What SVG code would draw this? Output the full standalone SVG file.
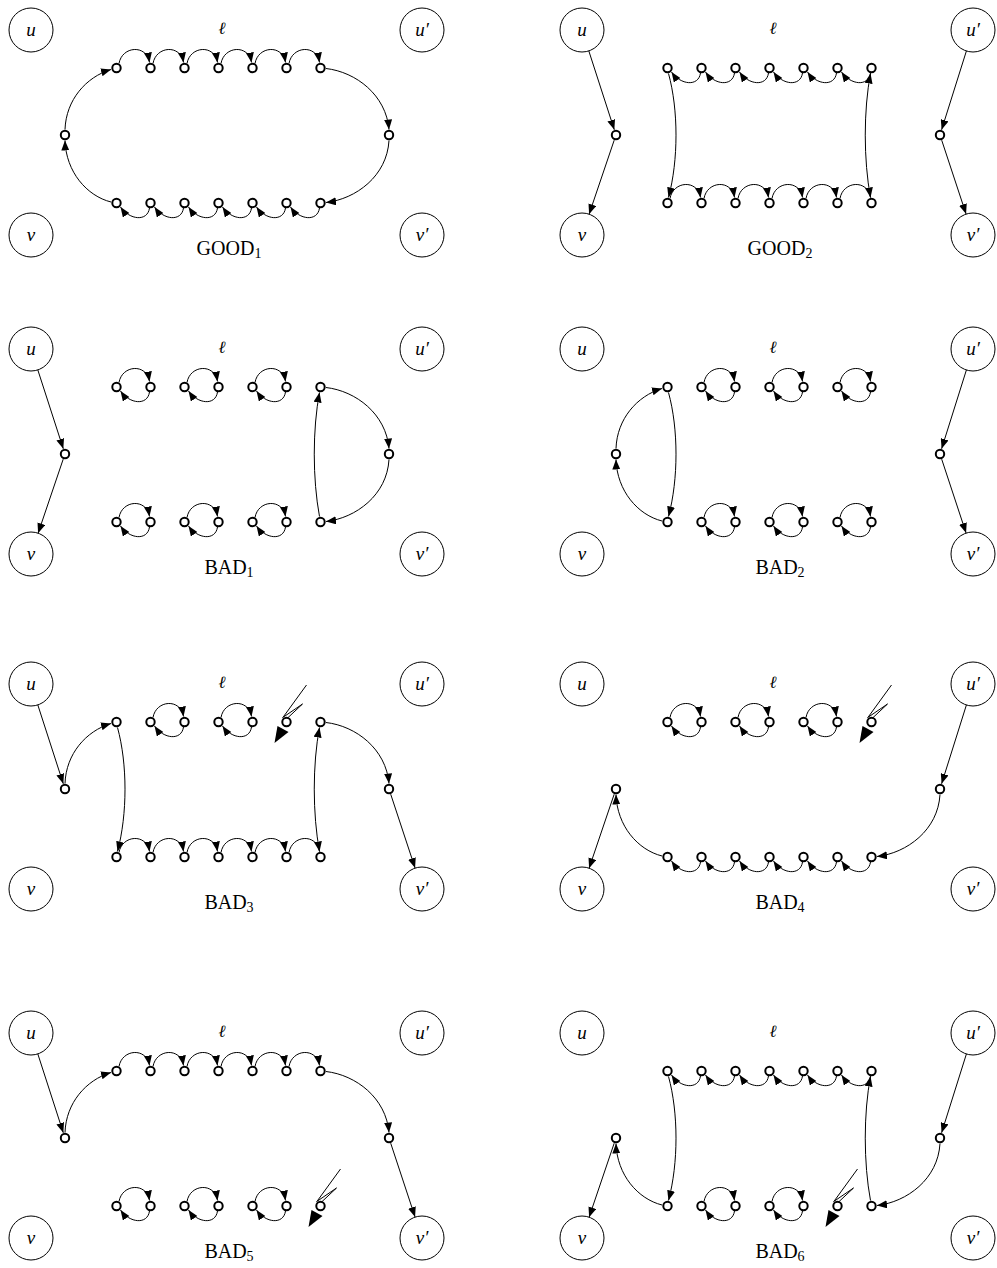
<svg xmlns="http://www.w3.org/2000/svg" width="997" height="1268" viewBox="0 0 997 1268">
<defs>
<style>
.s{fill:#fff;stroke:#000;stroke-width:2}
.b{fill:#fff;stroke:#000;stroke-width:1}
.e{fill:none;stroke:#000;stroke-width:1;marker-end:url(#ah)}
.w{fill:none;stroke:#000;stroke-width:1}
.m{font-family:"Liberation Serif",serif;font-style:italic;font-size:19px;text-anchor:middle}
.ell{font-family:"DejaVu Serif",serif;font-style:italic;font-size:17px;text-anchor:middle}
.lab{font-family:"Liberation Serif",serif;font-size:20px;text-anchor:middle}
.sub{font-size:14px}
</style>
<marker id="ah" viewBox="0 0 10 8" refX="10" refY="4" markerWidth="10" markerHeight="8" markerUnits="userSpaceOnUse" orient="auto"><path d="M0,0 L10,4 L0,8 z" fill="#000"/></marker>
</defs>
<rect width="997" height="1268" fill="#fff"/>

<!-- GOOD1 -->
<g id="good1" transform="translate(0,0)">
<g id="good1-connectors">
<path class="e" d="M65,129.5 C66,100 86,77 111,69.5"/>
<path class="e" d="M119,63.5 c3,-17.5 27.5,-19.5 30.5,-1"/>
<path class="e" d="M153,63.5 c3,-17.5 27.5,-19.5 30.5,-1"/>
<path class="e" d="M187,63.5 c3,-17.5 27.5,-19.5 30.5,-1"/>
<path class="e" d="M221,63.5 c3,-17.5 27.5,-19.5 30.5,-1"/>
<path class="e" d="M255,63.5 c3,-17.5 27.5,-19.5 30.5,-1"/>
<path class="e" d="M289,63.5 c3,-17.5 27.5,-19.5 30.5,-1"/>
<path class="e" d="M326,68.5 C356,72 386,95 389,129.5"/>
<path class="e" d="M389,140.5 C387,176 356,199 326,202.5"/>
<path class="e" d="M149.5,208 c-2,14 -20,12 -29,-1"/>
<path class="e" d="M183.5,208 c-2,14 -20,12 -29,-1"/>
<path class="e" d="M217.5,208 c-2,14 -20,12 -29,-1"/>
<path class="e" d="M251.5,208 c-2,14 -20,12 -29,-1"/>
<path class="e" d="M285.5,208 c-2,14 -20,12 -29,-1"/>
<path class="e" d="M319.5,208 c-2,14 -20,12 -29,-1"/>
<path class="e" d="M111,202 C87,196 66,172 65,140.5"/>
</g>
<g id="good1-u"><circle class="b" cx="31" cy="30" r="22"/><text class="m" x="31" y="36">u</text></g>
<g id="good1-v"><circle class="b" cx="31" cy="235" r="22"/><text class="m" x="31" y="241">v</text></g>
<g id="good1-u2"><circle class="b" cx="422" cy="30" r="22"/><text class="m" x="422" y="36">u′</text></g>
<g id="good1-v2"><circle class="b" cx="422" cy="235" r="22"/><text class="m" x="422" y="241">v′</text></g>
<g id="good1-l"><circle class="s" cx="65" cy="135" r="4.2"/></g>
<g id="good1-r"><circle class="s" cx="389" cy="135" r="4.2"/></g>
<g id="good1-t0"><circle class="s" cx="116.5" cy="68" r="4.2"/></g>
<g id="good1-t1"><circle class="s" cx="150.5" cy="68" r="4.2"/></g>
<g id="good1-t2"><circle class="s" cx="184.5" cy="68" r="4.2"/></g>
<g id="good1-t3"><circle class="s" cx="218.5" cy="68" r="4.2"/></g>
<g id="good1-t4"><circle class="s" cx="252.5" cy="68" r="4.2"/></g>
<g id="good1-t5"><circle class="s" cx="286.5" cy="68" r="4.2"/></g>
<g id="good1-t6"><circle class="s" cx="320.5" cy="68" r="4.2"/></g>
<g id="good1-b0"><circle class="s" cx="116.5" cy="203" r="4.2"/></g>
<g id="good1-b1"><circle class="s" cx="150.5" cy="203" r="4.2"/></g>
<g id="good1-b2"><circle class="s" cx="184.5" cy="203" r="4.2"/></g>
<g id="good1-b3"><circle class="s" cx="218.5" cy="203" r="4.2"/></g>
<g id="good1-b4"><circle class="s" cx="252.5" cy="203" r="4.2"/></g>
<g id="good1-b5"><circle class="s" cx="286.5" cy="203" r="4.2"/></g>
<g id="good1-b6"><circle class="s" cx="320.5" cy="203" r="4.2"/></g>
<text class="ell" x="222" y="34">ℓ</text>
<text class="lab" x="229" y="255">GOOD<tspan class="sub" dy="3">1</tspan></text>
</g>

<!-- GOOD2 -->
<g id="good2" transform="translate(551,0)">
<g id="good2-connectors">
<path class="e" d="M37.8,50.9 L63.3,129.8"/>
<path class="e" d="M63.2,140.2 L38.1,214.2"/>
<path class="e" d="M415.4,51 L390.6,129.8"/>
<path class="e" d="M390.7,140.2 L415.1,214.1"/>
<path class="e" d="M149.5,73 c-2,14 -20,12 -29,-1"/>
<path class="e" d="M183.5,73 c-2,14 -20,12 -29,-1"/>
<path class="e" d="M217.5,73 c-2,14 -20,12 -29,-1"/>
<path class="e" d="M251.5,73 c-2,14 -20,12 -29,-1"/>
<path class="e" d="M285.5,73 c-2,14 -20,12 -29,-1"/>
<path class="e" d="M319.5,73 c-2,14 -20,12 -29,-1"/>
<path class="e" d="M117.5,73.5 C127.5,110 127.5,160 117.5,197.5"/>
<path class="e" d="M119,198.5 c3,-17.5 27.5,-19.5 30.5,-1"/>
<path class="e" d="M153,198.5 c3,-17.5 27.5,-19.5 30.5,-1"/>
<path class="e" d="M187,198.5 c3,-17.5 27.5,-19.5 30.5,-1"/>
<path class="e" d="M221,198.5 c3,-17.5 27.5,-19.5 30.5,-1"/>
<path class="e" d="M255,198.5 c3,-17.5 27.5,-19.5 30.5,-1"/>
<path class="e" d="M289,198.5 c3,-17.5 27.5,-19.5 30.5,-1"/>
<path class="e" d="M319.5,197.5 C312.5,160 312.5,110 319.5,73.5"/>
</g>
<g id="good2-u"><circle class="b" cx="31" cy="30" r="22"/><text class="m" x="31" y="36">u</text></g>
<g id="good2-v"><circle class="b" cx="31" cy="235" r="22"/><text class="m" x="31" y="241">v</text></g>
<g id="good2-u2"><circle class="b" cx="422" cy="30" r="22"/><text class="m" x="422" y="36">u′</text></g>
<g id="good2-v2"><circle class="b" cx="422" cy="235" r="22"/><text class="m" x="422" y="241">v′</text></g>
<g id="good2-l"><circle class="s" cx="65" cy="135" r="4.2"/></g>
<g id="good2-r"><circle class="s" cx="389" cy="135" r="4.2"/></g>
<g id="good2-t0"><circle class="s" cx="116.5" cy="68" r="4.2"/></g>
<g id="good2-t1"><circle class="s" cx="150.5" cy="68" r="4.2"/></g>
<g id="good2-t2"><circle class="s" cx="184.5" cy="68" r="4.2"/></g>
<g id="good2-t3"><circle class="s" cx="218.5" cy="68" r="4.2"/></g>
<g id="good2-t4"><circle class="s" cx="252.5" cy="68" r="4.2"/></g>
<g id="good2-t5"><circle class="s" cx="286.5" cy="68" r="4.2"/></g>
<g id="good2-t6"><circle class="s" cx="320.5" cy="68" r="4.2"/></g>
<g id="good2-b0"><circle class="s" cx="116.5" cy="203" r="4.2"/></g>
<g id="good2-b1"><circle class="s" cx="150.5" cy="203" r="4.2"/></g>
<g id="good2-b2"><circle class="s" cx="184.5" cy="203" r="4.2"/></g>
<g id="good2-b3"><circle class="s" cx="218.5" cy="203" r="4.2"/></g>
<g id="good2-b4"><circle class="s" cx="252.5" cy="203" r="4.2"/></g>
<g id="good2-b5"><circle class="s" cx="286.5" cy="203" r="4.2"/></g>
<g id="good2-b6"><circle class="s" cx="320.5" cy="203" r="4.2"/></g>
<text class="ell" x="222" y="34">ℓ</text>
<text class="lab" x="229" y="255">GOOD<tspan class="sub" dy="3">2</tspan></text>
</g>

<!-- BAD1 -->
<g id="bad1" transform="translate(0,319)">
<g id="bad1-connectors">
<path class="e" d="M37.8,50.9 L63.3,129.8"/>
<path class="e" d="M63.2,140.2 L38.1,214.2"/>
<path class="e" d="M119,63.5 c3,-17.5 27.5,-19.5 30.5,-1"/>
<path class="e" d="M149.5,73 c-2,14 -20,12 -29,-1"/>
<path class="e" d="M187,63.5 c3,-17.5 27.5,-19.5 30.5,-1"/>
<path class="e" d="M217.5,73 c-2,14 -20,12 -29,-1"/>
<path class="e" d="M255,63.5 c3,-17.5 27.5,-19.5 30.5,-1"/>
<path class="e" d="M285.5,73 c-2,14 -20,12 -29,-1"/>
<path class="e" d="M119,198.5 c3,-17.5 27.5,-19.5 30.5,-1"/>
<path class="e" d="M149.5,208 c-2,14 -20,12 -29,-1"/>
<path class="e" d="M187,198.5 c3,-17.5 27.5,-19.5 30.5,-1"/>
<path class="e" d="M217.5,208 c-2,14 -20,12 -29,-1"/>
<path class="e" d="M255,198.5 c3,-17.5 27.5,-19.5 30.5,-1"/>
<path class="e" d="M285.5,208 c-2,14 -20,12 -29,-1"/>
<path class="e" d="M326,68.5 C356,72 386,95 389,129.5"/>
<path class="e" d="M389,140.5 C387,176 356,199 326,202.5"/>
<path class="e" d="M319.5,197.5 C312.5,160 312.5,110 319.5,73.5"/>
</g>
<g id="bad1-u"><circle class="b" cx="31" cy="30" r="22"/><text class="m" x="31" y="36">u</text></g>
<g id="bad1-v"><circle class="b" cx="31" cy="235" r="22"/><text class="m" x="31" y="241">v</text></g>
<g id="bad1-u2"><circle class="b" cx="422" cy="30" r="22"/><text class="m" x="422" y="36">u′</text></g>
<g id="bad1-v2"><circle class="b" cx="422" cy="235" r="22"/><text class="m" x="422" y="241">v′</text></g>
<g id="bad1-l"><circle class="s" cx="65" cy="135" r="4.2"/></g>
<g id="bad1-r"><circle class="s" cx="389" cy="135" r="4.2"/></g>
<g id="bad1-t0"><circle class="s" cx="116.5" cy="68" r="4.2"/></g>
<g id="bad1-t1"><circle class="s" cx="150.5" cy="68" r="4.2"/></g>
<g id="bad1-t2"><circle class="s" cx="184.5" cy="68" r="4.2"/></g>
<g id="bad1-t3"><circle class="s" cx="218.5" cy="68" r="4.2"/></g>
<g id="bad1-t4"><circle class="s" cx="252.5" cy="68" r="4.2"/></g>
<g id="bad1-t5"><circle class="s" cx="286.5" cy="68" r="4.2"/></g>
<g id="bad1-t6"><circle class="s" cx="320.5" cy="68" r="4.2"/></g>
<g id="bad1-b0"><circle class="s" cx="116.5" cy="203" r="4.2"/></g>
<g id="bad1-b1"><circle class="s" cx="150.5" cy="203" r="4.2"/></g>
<g id="bad1-b2"><circle class="s" cx="184.5" cy="203" r="4.2"/></g>
<g id="bad1-b3"><circle class="s" cx="218.5" cy="203" r="4.2"/></g>
<g id="bad1-b4"><circle class="s" cx="252.5" cy="203" r="4.2"/></g>
<g id="bad1-b5"><circle class="s" cx="286.5" cy="203" r="4.2"/></g>
<g id="bad1-b6"><circle class="s" cx="320.5" cy="203" r="4.2"/></g>
<text class="ell" x="222" y="34">ℓ</text>
<text class="lab" x="229" y="255">BAD<tspan class="sub" dy="3">1</tspan></text>
</g>

<!-- BAD2 -->
<g id="bad2" transform="translate(551,319)">
<g id="bad2-connectors">
<path class="e" d="M415.4,51 L390.6,129.8"/>
<path class="e" d="M390.7,140.2 L415.1,214.1"/>
<path class="e" d="M153,63.5 c3,-17.5 27.5,-19.5 30.5,-1"/>
<path class="e" d="M183.5,73 c-2,14 -20,12 -29,-1"/>
<path class="e" d="M221,63.5 c3,-17.5 27.5,-19.5 30.5,-1"/>
<path class="e" d="M251.5,73 c-2,14 -20,12 -29,-1"/>
<path class="e" d="M289,63.5 c3,-17.5 27.5,-19.5 30.5,-1"/>
<path class="e" d="M319.5,73 c-2,14 -20,12 -29,-1"/>
<path class="e" d="M153,198.5 c3,-17.5 27.5,-19.5 30.5,-1"/>
<path class="e" d="M183.5,208 c-2,14 -20,12 -29,-1"/>
<path class="e" d="M221,198.5 c3,-17.5 27.5,-19.5 30.5,-1"/>
<path class="e" d="M251.5,208 c-2,14 -20,12 -29,-1"/>
<path class="e" d="M289,198.5 c3,-17.5 27.5,-19.5 30.5,-1"/>
<path class="e" d="M319.5,208 c-2,14 -20,12 -29,-1"/>
<path class="e" d="M65,129.5 C66,100 86,77 111,69.5"/>
<path class="e" d="M117.5,73.5 C127.5,110 127.5,160 117.5,197.5"/>
<path class="e" d="M111,202 C87,196 66,172 65,140.5"/>
</g>
<g id="bad2-u"><circle class="b" cx="31" cy="30" r="22"/><text class="m" x="31" y="36">u</text></g>
<g id="bad2-v"><circle class="b" cx="31" cy="235" r="22"/><text class="m" x="31" y="241">v</text></g>
<g id="bad2-u2"><circle class="b" cx="422" cy="30" r="22"/><text class="m" x="422" y="36">u′</text></g>
<g id="bad2-v2"><circle class="b" cx="422" cy="235" r="22"/><text class="m" x="422" y="241">v′</text></g>
<g id="bad2-l"><circle class="s" cx="65" cy="135" r="4.2"/></g>
<g id="bad2-r"><circle class="s" cx="389" cy="135" r="4.2"/></g>
<g id="bad2-t0"><circle class="s" cx="116.5" cy="68" r="4.2"/></g>
<g id="bad2-t1"><circle class="s" cx="150.5" cy="68" r="4.2"/></g>
<g id="bad2-t2"><circle class="s" cx="184.5" cy="68" r="4.2"/></g>
<g id="bad2-t3"><circle class="s" cx="218.5" cy="68" r="4.2"/></g>
<g id="bad2-t4"><circle class="s" cx="252.5" cy="68" r="4.2"/></g>
<g id="bad2-t5"><circle class="s" cx="286.5" cy="68" r="4.2"/></g>
<g id="bad2-t6"><circle class="s" cx="320.5" cy="68" r="4.2"/></g>
<g id="bad2-b0"><circle class="s" cx="116.5" cy="203" r="4.2"/></g>
<g id="bad2-b1"><circle class="s" cx="150.5" cy="203" r="4.2"/></g>
<g id="bad2-b2"><circle class="s" cx="184.5" cy="203" r="4.2"/></g>
<g id="bad2-b3"><circle class="s" cx="218.5" cy="203" r="4.2"/></g>
<g id="bad2-b4"><circle class="s" cx="252.5" cy="203" r="4.2"/></g>
<g id="bad2-b5"><circle class="s" cx="286.5" cy="203" r="4.2"/></g>
<g id="bad2-b6"><circle class="s" cx="320.5" cy="203" r="4.2"/></g>
<text class="ell" x="222" y="34">ℓ</text>
<text class="lab" x="229" y="255">BAD<tspan class="sub" dy="3">2</tspan></text>
</g>

<!-- BAD3 -->
<g id="bad3" transform="translate(0,654)">
<g id="bad3-connectors">
<path class="e" d="M37.8,50.9 L63.3,129.8"/>
<path class="e" d="M65,129.5 C66,100 86,77 111,69.5"/>
<path class="e" d="M117.5,73.5 C127.5,110 127.5,160 117.5,197.5"/>
<path class="e" d="M119,198.5 c3,-17.5 27.5,-19.5 30.5,-1"/>
<path class="e" d="M153,198.5 c3,-17.5 27.5,-19.5 30.5,-1"/>
<path class="e" d="M187,198.5 c3,-17.5 27.5,-19.5 30.5,-1"/>
<path class="e" d="M221,198.5 c3,-17.5 27.5,-19.5 30.5,-1"/>
<path class="e" d="M255,198.5 c3,-17.5 27.5,-19.5 30.5,-1"/>
<path class="e" d="M289,198.5 c3,-17.5 27.5,-19.5 30.5,-1"/>
<path class="e" d="M319.5,197.5 C312.5,160 312.5,110 319.5,73.5"/>
<path class="e" d="M326,68.5 C356,72 386,95 389,129.5"/>
<path class="e" d="M390.7,140.2 L415.1,214.1"/>
<path class="e" d="M153,63.5 c3,-17.5 27.5,-19.5 30.5,-1"/>
<path class="e" d="M183.5,73 c-2,14 -20,12 -29,-1"/>
<path class="e" d="M221,63.5 c3,-17.5 27.5,-19.5 30.5,-1"/>
<path class="e" d="M251.5,73 c-2,14 -20,12 -29,-1"/>
<path class="w" d="M306.5,31 L282.5,64 M283.5,63 L302.5,50 L286.5,65"/>
<polygon points="274.5,89 277.5,72 288.5,78" fill="#000"/>
</g>
<g id="bad3-u"><circle class="b" cx="31" cy="30" r="22"/><text class="m" x="31" y="36">u</text></g>
<g id="bad3-v"><circle class="b" cx="31" cy="235" r="22"/><text class="m" x="31" y="241">v</text></g>
<g id="bad3-u2"><circle class="b" cx="422" cy="30" r="22"/><text class="m" x="422" y="36">u′</text></g>
<g id="bad3-v2"><circle class="b" cx="422" cy="235" r="22"/><text class="m" x="422" y="241">v′</text></g>
<g id="bad3-l"><circle class="s" cx="65" cy="135" r="4.2"/></g>
<g id="bad3-r"><circle class="s" cx="389" cy="135" r="4.2"/></g>
<g id="bad3-t0"><circle class="s" cx="116.5" cy="68" r="4.2"/></g>
<g id="bad3-t1"><circle class="s" cx="150.5" cy="68" r="4.2"/></g>
<g id="bad3-t2"><circle class="s" cx="184.5" cy="68" r="4.2"/></g>
<g id="bad3-t3"><circle class="s" cx="218.5" cy="68" r="4.2"/></g>
<g id="bad3-t4"><circle class="s" cx="252.5" cy="68" r="4.2"/></g>
<g id="bad3-t5"><circle class="s" cx="286.5" cy="68" r="4.2"/></g>
<g id="bad3-t6"><circle class="s" cx="320.5" cy="68" r="4.2"/></g>
<g id="bad3-b0"><circle class="s" cx="116.5" cy="203" r="4.2"/></g>
<g id="bad3-b1"><circle class="s" cx="150.5" cy="203" r="4.2"/></g>
<g id="bad3-b2"><circle class="s" cx="184.5" cy="203" r="4.2"/></g>
<g id="bad3-b3"><circle class="s" cx="218.5" cy="203" r="4.2"/></g>
<g id="bad3-b4"><circle class="s" cx="252.5" cy="203" r="4.2"/></g>
<g id="bad3-b5"><circle class="s" cx="286.5" cy="203" r="4.2"/></g>
<g id="bad3-b6"><circle class="s" cx="320.5" cy="203" r="4.2"/></g>
<text class="ell" x="222" y="34">ℓ</text>
<text class="lab" x="229" y="255">BAD<tspan class="sub" dy="3">3</tspan></text>
</g>

<!-- BAD4 -->
<g id="bad4" transform="translate(551,654)">
<g id="bad4-connectors">
<path class="e" d="M119,63.5 c3,-17.5 27.5,-19.5 30.5,-1"/>
<path class="e" d="M149.5,73 c-2,14 -20,12 -29,-1"/>
<path class="e" d="M187,63.5 c3,-17.5 27.5,-19.5 30.5,-1"/>
<path class="e" d="M217.5,73 c-2,14 -20,12 -29,-1"/>
<path class="e" d="M255,63.5 c3,-17.5 27.5,-19.5 30.5,-1"/>
<path class="e" d="M285.5,73 c-2,14 -20,12 -29,-1"/>
<path class="w" d="M340.5,31 L316.5,64 M317.5,63 L336.5,50 L320.5,65"/>
<polygon points="308.5,89 311.5,72 322.5,78" fill="#000"/>
<path class="e" d="M415.4,51 L390.6,129.8"/>
<path class="e" d="M389,140.5 C387,176 356,199 326,202.5"/>
<path class="e" d="M149.5,208 c-2,14 -20,12 -29,-1"/>
<path class="e" d="M183.5,208 c-2,14 -20,12 -29,-1"/>
<path class="e" d="M217.5,208 c-2,14 -20,12 -29,-1"/>
<path class="e" d="M251.5,208 c-2,14 -20,12 -29,-1"/>
<path class="e" d="M285.5,208 c-2,14 -20,12 -29,-1"/>
<path class="e" d="M319.5,208 c-2,14 -20,12 -29,-1"/>
<path class="e" d="M111,202 C87,196 66,172 65,140.5"/>
<path class="e" d="M63.2,140.2 L38.1,214.2"/>
</g>
<g id="bad4-u"><circle class="b" cx="31" cy="30" r="22"/><text class="m" x="31" y="36">u</text></g>
<g id="bad4-v"><circle class="b" cx="31" cy="235" r="22"/><text class="m" x="31" y="241">v</text></g>
<g id="bad4-u2"><circle class="b" cx="422" cy="30" r="22"/><text class="m" x="422" y="36">u′</text></g>
<g id="bad4-v2"><circle class="b" cx="422" cy="235" r="22"/><text class="m" x="422" y="241">v′</text></g>
<g id="bad4-l"><circle class="s" cx="65" cy="135" r="4.2"/></g>
<g id="bad4-r"><circle class="s" cx="389" cy="135" r="4.2"/></g>
<g id="bad4-t0"><circle class="s" cx="116.5" cy="68" r="4.2"/></g>
<g id="bad4-t1"><circle class="s" cx="150.5" cy="68" r="4.2"/></g>
<g id="bad4-t2"><circle class="s" cx="184.5" cy="68" r="4.2"/></g>
<g id="bad4-t3"><circle class="s" cx="218.5" cy="68" r="4.2"/></g>
<g id="bad4-t4"><circle class="s" cx="252.5" cy="68" r="4.2"/></g>
<g id="bad4-t5"><circle class="s" cx="286.5" cy="68" r="4.2"/></g>
<g id="bad4-t6"><circle class="s" cx="320.5" cy="68" r="4.2"/></g>
<g id="bad4-b0"><circle class="s" cx="116.5" cy="203" r="4.2"/></g>
<g id="bad4-b1"><circle class="s" cx="150.5" cy="203" r="4.2"/></g>
<g id="bad4-b2"><circle class="s" cx="184.5" cy="203" r="4.2"/></g>
<g id="bad4-b3"><circle class="s" cx="218.5" cy="203" r="4.2"/></g>
<g id="bad4-b4"><circle class="s" cx="252.5" cy="203" r="4.2"/></g>
<g id="bad4-b5"><circle class="s" cx="286.5" cy="203" r="4.2"/></g>
<g id="bad4-b6"><circle class="s" cx="320.5" cy="203" r="4.2"/></g>
<text class="ell" x="222" y="34">ℓ</text>
<text class="lab" x="229" y="255">BAD<tspan class="sub" dy="3">4</tspan></text>
</g>

<!-- BAD5 -->
<g id="bad5" transform="translate(0,1003)">
<g id="bad5-connectors">
<path class="e" d="M37.8,50.9 L63.3,129.8"/>
<path class="e" d="M65,129.5 C66,100 86,77 111,69.5"/>
<path class="e" d="M119,63.5 c3,-17.5 27.5,-19.5 30.5,-1"/>
<path class="e" d="M153,63.5 c3,-17.5 27.5,-19.5 30.5,-1"/>
<path class="e" d="M187,63.5 c3,-17.5 27.5,-19.5 30.5,-1"/>
<path class="e" d="M221,63.5 c3,-17.5 27.5,-19.5 30.5,-1"/>
<path class="e" d="M255,63.5 c3,-17.5 27.5,-19.5 30.5,-1"/>
<path class="e" d="M289,63.5 c3,-17.5 27.5,-19.5 30.5,-1"/>
<path class="e" d="M326,68.5 C356,72 386,95 389,129.5"/>
<path class="e" d="M390.7,140.2 L415.1,214.1"/>
<path class="e" d="M119,198.5 c3,-17.5 27.5,-19.5 30.5,-1"/>
<path class="e" d="M149.5,208 c-2,14 -20,12 -29,-1"/>
<path class="e" d="M187,198.5 c3,-17.5 27.5,-19.5 30.5,-1"/>
<path class="e" d="M217.5,208 c-2,14 -20,12 -29,-1"/>
<path class="e" d="M255,198.5 c3,-17.5 27.5,-19.5 30.5,-1"/>
<path class="e" d="M285.5,208 c-2,14 -20,12 -29,-1"/>
<path class="w" d="M340.5,166 L316.5,199 M317.5,198 L336.5,185 L320.5,200"/>
<polygon points="308.5,224 311.5,207 322.5,213" fill="#000"/>
</g>
<g id="bad5-u"><circle class="b" cx="31" cy="30" r="22"/><text class="m" x="31" y="36">u</text></g>
<g id="bad5-v"><circle class="b" cx="31" cy="235" r="22"/><text class="m" x="31" y="241">v</text></g>
<g id="bad5-u2"><circle class="b" cx="422" cy="30" r="22"/><text class="m" x="422" y="36">u′</text></g>
<g id="bad5-v2"><circle class="b" cx="422" cy="235" r="22"/><text class="m" x="422" y="241">v′</text></g>
<g id="bad5-l"><circle class="s" cx="65" cy="135" r="4.2"/></g>
<g id="bad5-r"><circle class="s" cx="389" cy="135" r="4.2"/></g>
<g id="bad5-t0"><circle class="s" cx="116.5" cy="68" r="4.2"/></g>
<g id="bad5-t1"><circle class="s" cx="150.5" cy="68" r="4.2"/></g>
<g id="bad5-t2"><circle class="s" cx="184.5" cy="68" r="4.2"/></g>
<g id="bad5-t3"><circle class="s" cx="218.5" cy="68" r="4.2"/></g>
<g id="bad5-t4"><circle class="s" cx="252.5" cy="68" r="4.2"/></g>
<g id="bad5-t5"><circle class="s" cx="286.5" cy="68" r="4.2"/></g>
<g id="bad5-t6"><circle class="s" cx="320.5" cy="68" r="4.2"/></g>
<g id="bad5-b0"><circle class="s" cx="116.5" cy="203" r="4.2"/></g>
<g id="bad5-b1"><circle class="s" cx="150.5" cy="203" r="4.2"/></g>
<g id="bad5-b2"><circle class="s" cx="184.5" cy="203" r="4.2"/></g>
<g id="bad5-b3"><circle class="s" cx="218.5" cy="203" r="4.2"/></g>
<g id="bad5-b4"><circle class="s" cx="252.5" cy="203" r="4.2"/></g>
<g id="bad5-b5"><circle class="s" cx="286.5" cy="203" r="4.2"/></g>
<g id="bad5-b6"><circle class="s" cx="320.5" cy="203" r="4.2"/></g>
<text class="ell" x="222" y="34">ℓ</text>
<text class="lab" x="229" y="255">BAD<tspan class="sub" dy="3">5</tspan></text>
</g>

<!-- BAD6 -->
<g id="bad6" transform="translate(551,1003)">
<g id="bad6-connectors">
<path class="e" d="M149.5,73 c-2,14 -20,12 -29,-1"/>
<path class="e" d="M183.5,73 c-2,14 -20,12 -29,-1"/>
<path class="e" d="M217.5,73 c-2,14 -20,12 -29,-1"/>
<path class="e" d="M251.5,73 c-2,14 -20,12 -29,-1"/>
<path class="e" d="M285.5,73 c-2,14 -20,12 -29,-1"/>
<path class="e" d="M319.5,73 c-2,14 -20,12 -29,-1"/>
<path class="e" d="M117.5,73.5 C127.5,110 127.5,160 117.5,197.5"/>
<path class="e" d="M111,202 C87,196 66,172 65,140.5"/>
<path class="e" d="M63.2,140.2 L38.1,214.2"/>
<path class="e" d="M415.4,51 L390.6,129.8"/>
<path class="e" d="M389,140.5 C387,176 356,199 326,202.5"/>
<path class="e" d="M319.5,197.5 C312.5,160 312.5,110 319.5,73.5"/>
<path class="e" d="M153,198.5 c3,-17.5 27.5,-19.5 30.5,-1"/>
<path class="e" d="M183.5,208 c-2,14 -20,12 -29,-1"/>
<path class="e" d="M221,198.5 c3,-17.5 27.5,-19.5 30.5,-1"/>
<path class="e" d="M251.5,208 c-2,14 -20,12 -29,-1"/>
<path class="w" d="M306.5,166 L282.5,199 M283.5,198 L302.5,185 L286.5,200"/>
<polygon points="274.5,224 277.5,207 288.5,213" fill="#000"/>
</g>
<g id="bad6-u"><circle class="b" cx="31" cy="30" r="22"/><text class="m" x="31" y="36">u</text></g>
<g id="bad6-v"><circle class="b" cx="31" cy="235" r="22"/><text class="m" x="31" y="241">v</text></g>
<g id="bad6-u2"><circle class="b" cx="422" cy="30" r="22"/><text class="m" x="422" y="36">u′</text></g>
<g id="bad6-v2"><circle class="b" cx="422" cy="235" r="22"/><text class="m" x="422" y="241">v′</text></g>
<g id="bad6-l"><circle class="s" cx="65" cy="135" r="4.2"/></g>
<g id="bad6-r"><circle class="s" cx="389" cy="135" r="4.2"/></g>
<g id="bad6-t0"><circle class="s" cx="116.5" cy="68" r="4.2"/></g>
<g id="bad6-t1"><circle class="s" cx="150.5" cy="68" r="4.2"/></g>
<g id="bad6-t2"><circle class="s" cx="184.5" cy="68" r="4.2"/></g>
<g id="bad6-t3"><circle class="s" cx="218.5" cy="68" r="4.2"/></g>
<g id="bad6-t4"><circle class="s" cx="252.5" cy="68" r="4.2"/></g>
<g id="bad6-t5"><circle class="s" cx="286.5" cy="68" r="4.2"/></g>
<g id="bad6-t6"><circle class="s" cx="320.5" cy="68" r="4.2"/></g>
<g id="bad6-b0"><circle class="s" cx="116.5" cy="203" r="4.2"/></g>
<g id="bad6-b1"><circle class="s" cx="150.5" cy="203" r="4.2"/></g>
<g id="bad6-b2"><circle class="s" cx="184.5" cy="203" r="4.2"/></g>
<g id="bad6-b3"><circle class="s" cx="218.5" cy="203" r="4.2"/></g>
<g id="bad6-b4"><circle class="s" cx="252.5" cy="203" r="4.2"/></g>
<g id="bad6-b5"><circle class="s" cx="286.5" cy="203" r="4.2"/></g>
<g id="bad6-b6"><circle class="s" cx="320.5" cy="203" r="4.2"/></g>
<text class="ell" x="222" y="34">ℓ</text>
<text class="lab" x="229" y="255">BAD<tspan class="sub" dy="3">6</tspan></text>
</g>
</svg>
